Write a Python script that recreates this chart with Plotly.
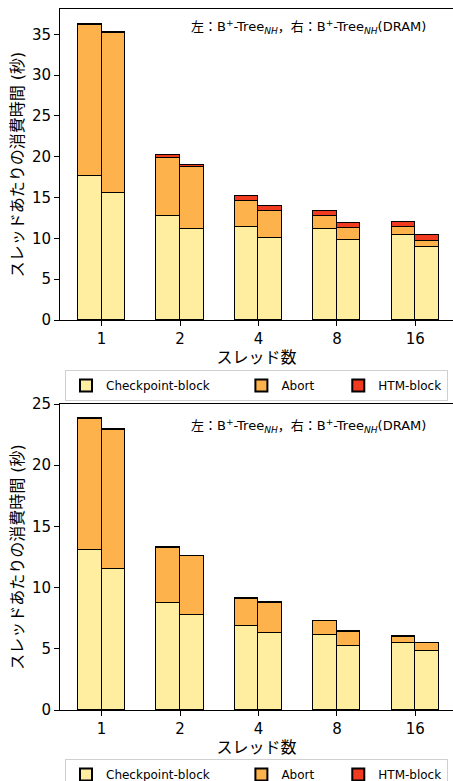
import plotly.graph_objects as go

threads = ["1", "2", "4", "8", "16"]
series_names = ["Checkpoint-block", "Abort", "HTM-block"]
colors = ["#FFEDA0", "#FEB24C", "#F03B20"]

# Top chart (left: B+-Tree_NH, right: B+-Tree_NH(DRAM))
top_left_checkpoint = [17.6, 12.7, 11.4, 11.2, 10.45]
top_left_abort = [18.6, 7.1, 3.2, 1.55, 0.9]
top_left_htm = [0.1, 0.4, 0.6, 0.65, 0.65]
top_right_checkpoint = [15.6, 11.2, 10.1, 9.8, 9.0]
top_right_abort = [19.6, 7.5, 3.3, 1.5, 0.7]
top_right_htm = [0.05, 0.35, 0.55, 0.6, 0.7]

# Bottom chart
bot_left_checkpoint = [13.1, 8.76, 6.9, 6.12, 5.44]
bot_left_abort = [10.7, 4.5, 2.2, 1.12, 0.54]
bot_left_htm = [0.03, 0.02, 0.03, 0.03, 0.03]
bot_right_checkpoint = [11.55, 7.8, 6.28, 5.2, 4.8]
bot_right_abort = [11.35, 4.75, 2.5, 1.17, 0.64]
bot_right_htm = [0.02, 0.02, 0.02, 0.05, 0.02]

top_ticks = [0, 5, 10, 15, 20, 25, 30, 35]
bot_ticks = [0, 5, 10, 15, 20, 25]

FONT = "DejaVu Sans, Noto Sans CJK JP"
NB = "\u00a0"
legend_pad = [7, 5, 0]
idx = list(range(len(threads)))
bw = 0.3
left_x = [i - bw / 2 for i in idx]
right_x = [i + bw / 2 for i in idx]

fig = go.Figure()

def add_group(xs, vals_list, xa, ya, legend, show):
    for name, pad, vals, col in zip(series_names, legend_pad, vals_list, colors):
        fig.add_trace(go.Bar(
            x=xs, y=vals, width=bw, name=name + NB * pad,
            marker=dict(color=col, line=dict(color="black", width=1)),
            xaxis=xa, yaxis=ya, legend=legend, legendgroup=name + legend,
            showlegend=show,
        ))

add_group(left_x, [top_left_checkpoint, top_left_abort, top_left_htm], "x", "y", "legend", True)
add_group(right_x, [top_right_checkpoint, top_right_abort, top_right_htm], "x", "y", "legend", False)
add_group(left_x, [bot_left_checkpoint, bot_left_abort, bot_left_htm], "x2", "y2", "legend2", True)
add_group(right_x, [bot_right_checkpoint, bot_right_abort, bot_right_htm], "x2", "y2", "legend2", False)

W, H = 453, 781
ml, mr, mt, mb = 60, 0, 9, 71
ph = H - mt - mb
top_dom = [(710 - 320) / ph, 1.0]
bot_dom = [0.0, (710 - 404) / ph]

xcommon = dict(
    tickmode="array", tickvals=idx, ticktext=threads, range=[-0.53, 4.48],
    showline=True, linecolor="black", linewidth=1, mirror=True,
    ticks="outside", ticklen=5, tickcolor="black", showgrid=False, zeroline=False,
    tickfont=dict(family=FONT, size=15, color="black"),
    title=dict(text="スレッド数", font=dict(family=FONT, size=16, color="black"), standoff=2),
)
ycommon = dict(
    showline=True, linecolor="black", linewidth=1, mirror=False,
    ticks="outside", ticklen=5, tickcolor="black", showgrid=False, zeroline=False,
    tickfont=dict(family=FONT, size=15, color="black"),
    title=dict(text="スレッドあたりの消費時間 (秒)", font=dict(family=FONT, size=16, color="black"), standoff=4),
)

legend_common = dict(
    orientation="h", xanchor="left", yanchor="top",
    bordercolor="#D0D0D0", borderwidth=1, bgcolor="white",
    font=dict(family=FONT, size=12, color="black"),
    traceorder="normal", itemsizing="constant",
)

label = "左：B<sup>+</sup>-Tree<sub><i>NH</i></sub>，右：B<sup>+</sup>-Tree<sub><i>NH</i></sub>(DRAM)"

fig.update_layout(
    width=W, height=H,
    margin=dict(l=ml, r=mr, t=mt, b=mb, autoexpand=False),
    plot_bgcolor="white", paper_bgcolor="white",
    barmode="stack", bargap=0,
    font=dict(family=FONT, color="black"),
    xaxis=dict(domain=[0, 1], anchor="y", **xcommon),
    yaxis=dict(domain=top_dom, anchor="x", range=[0, 38.1], tickvals=top_ticks, **ycommon),
    xaxis2=dict(domain=[0, 1], anchor="y2", **xcommon),
    yaxis2=dict(domain=bot_dom, anchor="x2", range=[0, 25], tickvals=bot_ticks, **ycommon),
    legend=dict(x=(65 - ml) / (W - ml), y=(710 - 370) / ph, **legend_common),
    legend2=dict(x=(65 - ml) / (W - ml), y=(710 - 759) / ph, **legend_common),
    annotations=[
        dict(text=label, xref="x domain", yref="y domain", x=(428 - ml) / (W - ml), y=(320 - 27) / 311,
             xanchor="right", yanchor="middle", showarrow=False,
             font=dict(family=FONT, size=13, color="black")),
        dict(text=label, xref="x2 domain", yref="y2 domain", x=(428 - ml) / (W - ml), y=(710 - 426) / 306,
             xanchor="right", yanchor="middle", showarrow=False,
             font=dict(family=FONT, size=13, color="black")),
    ],
)

fig.write_html(
    "out.html",
    config={"displayModeBar": False},
    post_script="document.body.style.margin='0';document.body.style.padding='0';document.body.style.overflow='hidden';",
)
